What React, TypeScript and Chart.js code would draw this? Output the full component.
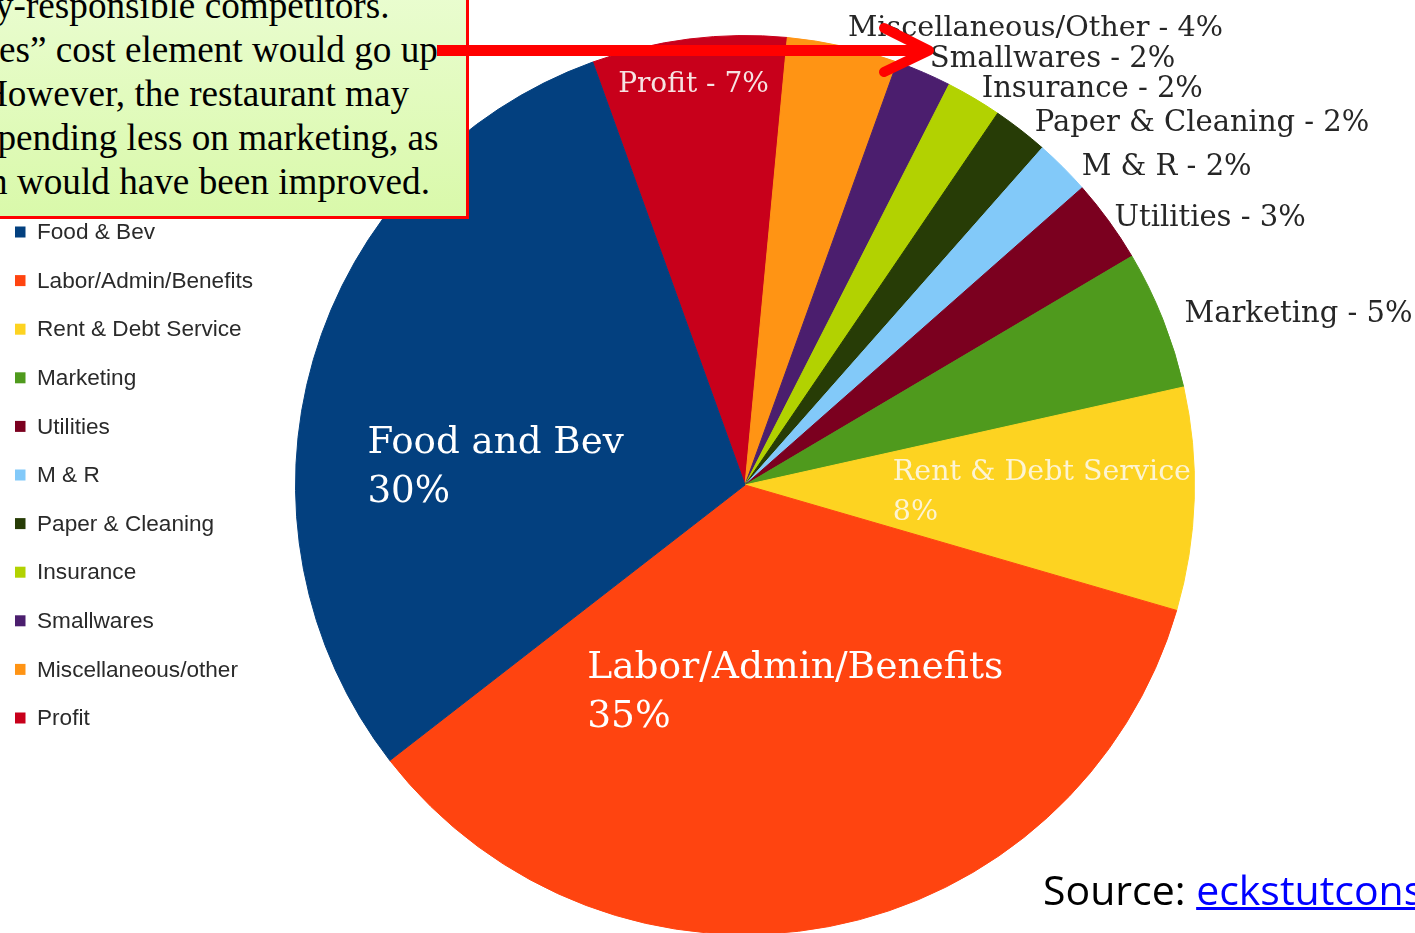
import React, { useEffect, useRef } from "react";
import { Chart, registerables } from "chart.js";

Chart.register(...registerables);

// ---- data (legend order, counter-clockwise on the pie) ----
const categories = [
  "Food & Bev",
  "Labor/Admin/Benefits",
  "Rent & Debt Service",
  "Marketing",
  "Utilities",
  "M & R",
  "Paper & Cleaning",
  "Insurance",
  "Smallwares",
  "Miscellaneous/other",
  "Profit",
];
const percentages = [30, 35, 8, 5, 3, 2, 2, 2, 2, 4, 7];
const pieLabels = [
  "Food and Bev",
  "Labor/Admin/Benefits",
  "Rent & Debt Service",
  "Marketing",
  "Utilities",
  "M & R",
  "Paper & Cleaning",
  "Insurance",
  "Smallwares",
  "Miscellaneous/Other",
  "Profit",
];
const sliceColors = [
  "#03407f",
  "#ff4410",
  "#fdd321",
  "#4f9a1d",
  "#7b001f",
  "#82c9f9",
  "#273c06",
  "#b2d201",
  "#4b1e6e",
  "#ff9414",
  "#c8001b",
];
const boxLines = [
  "y-responsible competitors.",
  "es\u201d cost element would go up",
  "However, the restaurant may",
  "spending less on marketing, as",
  "n would have been improved.",
];
const boxLineOffsets = [-5, -1, -19, -17, -11];
const sourceText = "Source: ";
const sourceLink = "eckstutconsulting.com";

// ---- label layout (offsets from pie centre, px at radius 450) ----
type Layout = { dx: number; dy: number; size: number; color: string; twoLine: boolean; gap: number };
const labelLayout: Layout[] = [
  { dx: -378, dy: -32, size: 37.2, color: "#ffffff", twoLine: true, gap: 49 },
  { dx: -158, dy: 193, size: 37.6, color: "#ffffff", twoLine: true, gap: 49 },
  { dx: 148, dy: -5, size: 28.5, color: "#fdf4d2", twoLine: true, gap: 40 },
  { dx: 440, dy: -163, size: 29, color: "#262626", twoLine: false, gap: 0 },
  { dx: 370, dy: -259, size: 29, color: "#262626", twoLine: false, gap: 0 },
  { dx: 337, dy: -310, size: 29, color: "#262626", twoLine: false, gap: 0 },
  { dx: 290, dy: -354, size: 29, color: "#262626", twoLine: false, gap: 0 },
  { dx: 237, dy: -388, size: 29, color: "#262626", twoLine: false, gap: 0 },
  { dx: 185, dy: -418, size: 29, color: "#262626", twoLine: false, gap: 0 },
  { dx: 103, dy: -449, size: 28.7, color: "#262626", twoLine: false, gap: 0 },
  { dx: -127, dy: -393, size: 28, color: "#f6e2e2", twoLine: false, gap: 0 },
];

const labelPlugin = {
  id: "sliceLabelsAndLegend",
  afterDatasetsDraw(chart: any) {
    const ctx: CanvasRenderingContext2D = chart.ctx;
    const meta = chart.getDatasetMeta(0);
    const a0 = meta.data[0];
    if (!a0) return;
    const cx = a0.x;
    const cy = a0.y;
    const k = a0.outerRadius / 450;
    ctx.save();
    ctx.textAlign = "left";
    ctx.textBaseline = "alphabetic";
    categories.forEach((_, i) => {
      const L = labelLayout[i];
      ctx.font = `${L.size}px "DejaVu Serif"`;
      ctx.fillStyle = L.color;
      const x = cx + L.dx * k;
      const y = cy + L.dy * k;
      if (L.twoLine) {
        ctx.fillText(pieLabels[i], x, y);
        ctx.fillText(`${percentages[i]}%`, x, y + L.gap);
      } else {
        ctx.fillText(`${pieLabels[i]} - ${percentages[i]}%`, x, y);
      }
    });
    // legend (legend order = categories order)
    ctx.font = '22.6px "Liberation Sans"';
    ctx.textBaseline = "middle";
    categories.forEach((name, i) => {
      const yc = 232 + i * 48.6;
      ctx.fillStyle = sliceColors[i];
      ctx.fillRect(15, yc - 5.5, 10.5, 11);
      ctx.fillStyle = "#2a2a2a";
      ctx.fillText(name, 37, yc + 1);
    });
    ctx.restore();
  },
};

export default function App() {
  const canvasRef = useRef<HTMLCanvasElement | null>(null);

  useEffect(() => {
    if (!canvasRef.current) return;
    const rev = <T,>(a: T[]) => a.slice().reverse();
    const chart = new Chart(canvasRef.current, {
      type: "pie",
      data: {
        labels: rev(categories),
        datasets: [
          {
            data: rev(percentages),
            backgroundColor: rev(sliceColors),
            borderColor: rev(sliceColors),
            borderWidth: 1,
            hoverOffset: 0,
          },
        ],
      },
      options: {
        responsive: true,
        maintainAspectRatio: false,
        animation: false,
        rotation: -19.8,
        layout: { padding: { left: 295, right: 220, top: 35, bottom: 15 } },
        plugins: { legend: { display: false }, tooltip: { enabled: false } },
      },
      plugins: [labelPlugin as any],
    });
    return () => chart.destroy();
  }, []);

  return (
    <div
      style={{
        position: "fixed",
        left: 0,
        top: 0,
        width: 1415,
        height: 933,
        overflow: "hidden",
        background: "#ffffff",
      }}
    >
      <div style={{ position: "absolute", left: 0, top: 0, width: 1415, height: 950 }}>
        <canvas ref={canvasRef} />
      </div>

      <div
        style={{
          position: "absolute",
          left: -40,
          top: -30,
          width: 509,
          height: 249,
          boxSizing: "border-box",
          border: "3px solid #ff0000",
          background: "linear-gradient(#ebfdd3, #d9f9aa)",
          overflow: "hidden",
        }}
      >
        <div style={{ position: "absolute", left: 37, top: 10.5 }}>
          {boxLines.map((t, i) => (
            <div
              key={i}
              style={{
                position: "relative",
                left: boxLineOffsets[i],
                fontFamily: '"Liberation Serif", serif',
                fontSize: 37.2,
                lineHeight: "44.2px",
                color: "#000",
                whiteSpace: "nowrap",
              }}
            >
              {t}
            </div>
          ))}
        </div>
      </div>

      <svg
        width={1415}
        height={933}
        style={{ position: "absolute", left: 0, top: 0, pointerEvents: "none" }}
      >
        <line x1={437} y1={50.5} x2={925} y2={50.5} stroke="#ff0000" strokeWidth={11} />
        <polyline
          points="884,28 929,50.5 884,72"
          fill="none"
          stroke="#ff0000"
          strokeWidth={10}
          strokeLinecap="round"
          strokeLinejoin="round"
        />
      </svg>

      <div
        style={{
          position: "absolute",
          left: 1043,
          top: 864,
          fontFamily: '"Open Sans", sans-serif',
          fontSize: 41,
          lineHeight: "50px",
          whiteSpace: "nowrap",
          color: "#000",
        }}
      >
        {sourceText}
        <span
          style={{
            color: "#0000ff",
            textDecoration: "underline",
            textDecorationThickness: 3,
          }}
        >
          {sourceLink}
        </span>
      </div>
    </div>
  );
}
